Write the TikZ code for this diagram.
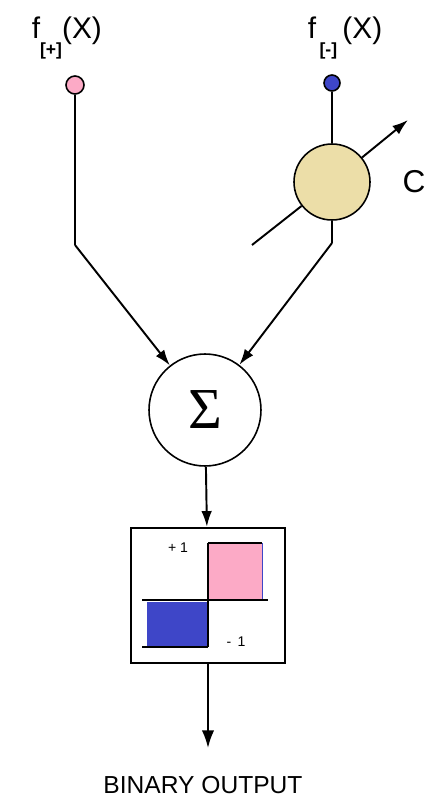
\documentclass[tikz,border=0pt]{standalone}
\usepackage{fontspec}
\setmainfont{Liberation Sans}
\newfontfamily\sigmafont{Liberation Serif}
\usetikzlibrary{arrows.meta,positioning}

\definecolor{pluspink}{RGB}{252,170,198}
\definecolor{minusblue}{RGB}{62,70,200}
\definecolor{weightsand}{RGB}{236,222,168}

\begin{document}
\begin{tikzpicture}
  [
    x=0.02cm, y=-0.02cm,
    every path/.style={line width=1.1pt},
    pin/.style={draw,circle,line width=0.9pt,inner sep=0pt,minimum size=0.36cm},
    weight/.style={draw,circle,line width=0.9pt,fill=weightsand,minimum size=1.52cm},
    adder/.style={draw,circle,line width=0.9pt,minimum size=2.24cm,inner sep=0pt},
    stepbox/.style={draw,rectangle,line width=1.3pt,minimum width=3.08cm,minimum height=2.7cm},
    tip/.style={-{Latex[length=9pt,width=6pt]}},
    bigtip/.style={-{Latex[length=10pt,width=7pt]}}
  ]

  % page frame
  \useasboundingbox (0,0) rectangle (431,801);

  % inputs
  \node[anchor=base west,font=\fontsize{17}{20}\selectfont] (fplus) at (25,38)
    {f\raisebox{-1.1ex}{\fontsize{10}{10}\selectfont\bfseries[+]}(X)};
  \node[anchor=base west,font=\fontsize{17}{20}\selectfont] (fminus) at (301,38)
    {f\hspace{2pt}\raisebox{-1.1ex}{\fontsize{10}{10}\selectfont\bfseries[-]}\hspace{3pt}(X)};
  \node[pin,fill=pluspink] (pplus) at (75,85) {};
  \node[pin,fill=minusblue,minimum size=0.32cm] (pminus) at (332,83) {};

  % variable weight C
  \node[weight] (wgt) at (332,182) {};
  \coordinate (cin) at (252,245);
  \coordinate (cout) at (408,120);
  \draw (cin) -- (wgt);
  \draw[tip] (wgt) -- (cout);
  \node[font=\fontsize{18}{20}\selectfont] (clab) at (414,182) {C};

  % summation
  \node[adder] (sum) at (205,410) {\sigmafont\fontsize{33}{36}\selectfont Σ};
  \coordinate (lbend) at (75,245);
  \coordinate (rbend) at (332,243);
  \draw (pplus) -- (lbend);
  \draw[tip] (lbend) -- (sum);
  \draw (pminus) -- (wgt);
  \draw (wgt) -- (rbend);
  \draw[tip] (rbend) -- (sum);

  % threshold box
  \node[stepbox] (out) at (208,595.5) {};
  \draw[tip] (sum) -- (out);
  \fill[pluspink] (208,543) rectangle (262,600);
  \fill[minusblue] (147,602) rectangle (207,647);
  \draw[line width=0.4pt,minusblue] (262,543) -- (262,600);
  \draw (208,543) -- (262,543);
  \draw (208,543) -- (208,647);
  \draw (142,600) -- (268,600);
  \draw (142,647) -- (208,647);
  \node[font=\fontsize{8}{9}\selectfont] (hi) at (178,548) {+ 1};
  \node[font=\fontsize{8}{9}\selectfont] (lo) at (236,642) {-\, 1};

  % output
  \coordinate (oend) at (208,748);
  \draw[bigtip] (out) -- (oend);
  \node[font=\fontsize{14}{16}\selectfont] (olab) at (203,785) {BINARY OUTPUT};
\end{tikzpicture}
\end{document}
